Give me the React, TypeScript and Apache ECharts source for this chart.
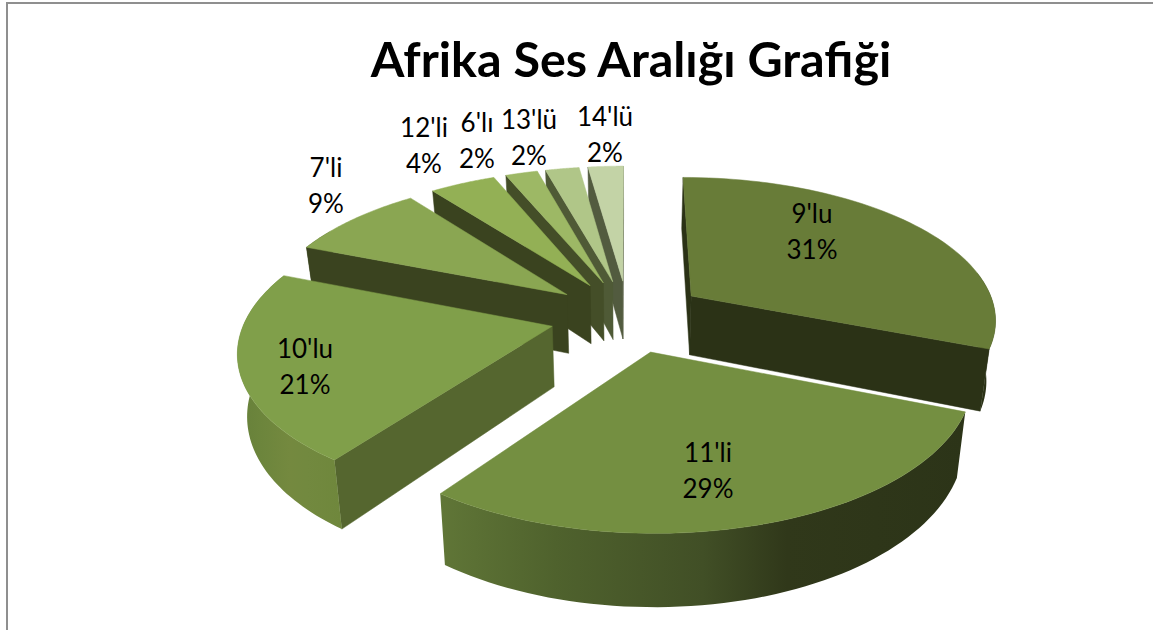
import React, { useEffect, useRef } from "react";
import * as echarts from "echarts";

const categories = ["9'lu", "11'li", "10'lu", "7'li", "12'li", "6'lı", "13'lü", "14'lü"];
const values = [31, 29, 21, 8.6, 4.1, 2.0, 2.1, 2.2];
const titleText = "Afrika Ses Aralığı Grafiği";

// style tables
const topColors = ["#687c38", "#748f41", "#809f4a", "#8aa652", "#93b055", "#9db865", "#b0c688", "#c3d3a6"];
const wallColors = ["#2b3216", "#2b3216", "#55662f", "#3a431f", "#3a431f", "#444e28", "#4f5a36", "#525b3f"];
const rimOffsets = [0, 0.22, 0.5, 0.66, 1];
const rimStops = [
  ["#2b3216", "#2b3216", "#2b3216", "#2b3216", "#2b3216"],
  ["#607637", "#4f622d", "#414f26", "#30381a", "#2c3418"],
  ["#66803a", "#6c853c", "#74893f", "#72893f", "#6f873c"],
  ["#3a431f", "#3a431f", "#3a431f", "#3a431f", "#3a431f"],
  ["#3a431f", "#3a431f", "#3a431f", "#3a431f", "#3a431f"],
  ["#444e28", "#444e28", "#444e28", "#444e28", "#444e28"],
  ["#4f5a36", "#4f5a36", "#4f5a36", "#4f5a36", "#4f5a36"],
  ["#525b3f", "#525b3f", "#525b3f", "#525b3f", "#525b3f"],
];
const zOrder = [6, 8, 7, 5, 4, 3, 2, 1];
const labelCenters = [
  [812, 231], [708, 470], [305, 366], [326, 185], [424, 145], [477, 140], [529, 137], [605, 134],
];

// projection of the tilted, exploded disc
const CX = 628, CY = 316, A = 306, B = 142, K = 0.15, EXPLODE = 0.255, DEPTH = 60, SHRINK = 0.975;
const total = values.reduce((s, v) => s + v, 0);

function proj(X: number, Y: number, low: boolean): number[] {
  const w = 1 - K * Y;
  return [CX + (A * X / w) * (low ? SHRINK : 1), CY + (B * Y) / w + (low ? DEPTH / w : 0)];
}
const rad = (d: number) => (d * Math.PI) / 180;

function renderItem(params: any, api: any) {
  const i = params.dataIndex;
  const v = api.value(0);
  let before = 0;
  for (let j = 0; j < i; j++) before += values[j];
  const t0 = (before / total) * 360;
  const t1 = ((before + v) / total) * 360;
  const mid = rad((t0 + t1) / 2);
  const ex = EXPLODE * Math.sin(mid);
  const ey = -EXPLODE * Math.cos(mid);
  const outer = (t: number, low: boolean) => proj(ex + Math.sin(rad(t)), ey - Math.cos(rad(t)), low);
  const apex = (low: boolean) => proj(ex, ey, low);
  const z = zOrder[i] * 10;
  const children: any[] = [];
  const wall = (t: number, sign: number) => {
    const a = apex(false), b = outer(t, false), c = outer(t, true), d = apex(true);
    const cross = (b[0] - a[0]) * (c[1] - b[1]) - (b[1] - a[1]) * (c[0] - b[0]);
    if (cross * sign > 0) {
      children.push({
        type: "polygon", z2: z,
        shape: { points: [a, b, c, d] },
        style: { fill: wallColors[i], stroke: wallColors[i], lineWidth: 0.5 },
      });
    }
  };
  wall(t0, -1);
  wall(t1, 1);
  const r0 = Math.max(t0, 80);
  const r1 = Math.min(t1, 300);
  if (r1 > r0) {
    const up: number[][] = [];
    const down: number[][] = [];
    for (let t = r0; t <= r1 + 1e-6; t += (r1 - r0) / 60) {
      up.push(outer(t, false));
      down.unshift(outer(t, true));
    }
    children.push({
      type: "polygon", z2: z + 1,
      shape: { points: up.concat(down) },
      style: {
        fill: new echarts.graphic.LinearGradient(
          0, 0, 1, 0,
          rimOffsets.map((offset, n) => ({ offset, color: rimStops[i][n] }))
        ),
      },
    });
  }
  const top: number[][] = [apex(false)];
  for (let t = t0; t <= t1 + 1e-6; t += (t1 - t0) / 60) top.push(outer(t, false));
  children.push({
    type: "polygon", z2: z + 2,
    shape: { points: top },
    style: { fill: topColors[i], stroke: topColors[i], lineWidth: 0.5 },
  });
  const pct = Math.round((v / total) * 100);
  children.push({
    type: "text", z2: 500,
    style: {
      text: categories[i] + "\n" + pct + "%",
      x: labelCenters[i][0], y: labelCenters[i][1],
      textAlign: "center", textVerticalAlign: "middle",
      fontFamily: "Lato", fontSize: 26, lineHeight: 36, fill: "#000000",
    },
  });
  return { type: "group", children };
}

export default function App() {
  const ref = useRef<HTMLDivElement>(null);
  useEffect(() => {
    const chart = echarts.init(ref.current!, null, { renderer: "svg" });
    chart.setOption({
      animation: false,
      backgroundColor: "#ffffff",
      title: {
        text: titleText, left: 626, top: 28, textAlign: "center",
        textStyle: { fontFamily: "Lato", fontWeight: "bold", fontSize: 48.5, color: "#000000" },
      },
      graphic: [
        {
          type: "polyline", silent: true,
          shape: { points: [[7, 640], [7, 3], [1160, 3]] },
          style: { fill: "none", stroke: "#8f8f8f", lineWidth: 2 },
        },
      ],
      series: [
        {
          type: "custom",
          coordinateSystem: "none",
          renderItem,
          data: values.map((v, i) => ({ name: categories[i], value: [v] })),
          encode: { value: 0 },
        },
      ],
    });
    return () => chart.dispose();
  }, []);
  return <div ref={ref} style={{ position: "fixed", left: 0, top: 0, width: 1153, height: 630 }} />;
}
